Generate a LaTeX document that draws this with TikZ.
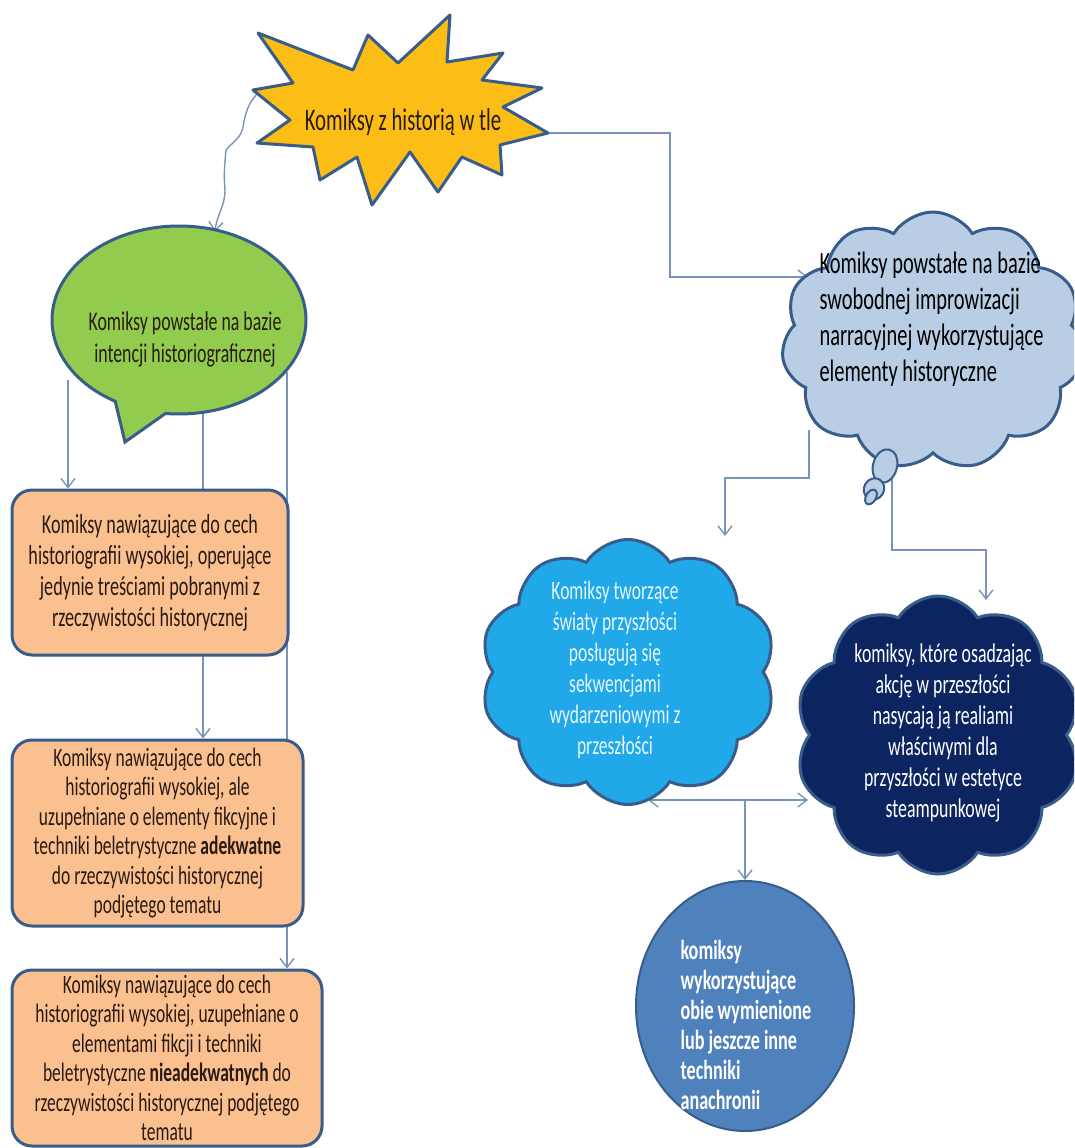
\documentclass[tikz,border=0pt]{standalone}
\usepackage{fontspec}
\setmainfont{Carlito}[FakeStretch=0.66]
\usetikzlibrary{shapes.geometric, shapes.symbols, shapes.callouts, arrows.meta, backgrounds}

\definecolor{outline}{RGB}{56,93,138}
\definecolor{linkblue}{RGB}{120,148,185}
\definecolor{stargold}{RGB}{252,190,22}
\definecolor{bubgreen}{RGB}{146,204,78}
\definecolor{boxorange}{RGB}{250,192,144}
\definecolor{cloudpale}{RGB}{185,205,229}
\definecolor{cloudsky}{RGB}{32,168,232}
\definecolor{cloudnavy}{RGB}{12,36,96}
\definecolor{circblue}{RGB}{79,129,189}
\definecolor{inkdark}{RGB}{42,26,20}

\newcommand{\txtsize}[2]{\fontsize{#1}{#2}\selectfont}

\begin{document}
\begin{tikzpicture}[
    x=1pt, y=-1pt,
    >={Straight Barb[length=9pt, width=14pt]},
    edge/.style={draw=outline, line width=3pt},
    box/.style={edge, rectangle, rounded corners=20pt, fill=boxorange, align=center, text=inkdark, inner sep=2pt},
    puff/.style={edge, cloud, cloud puffs=11, cloud puff arc=115, cloud ignores aspect, inner sep=0pt},
    bubble/.style={edge, line width=2pt, fill=cloudpale},
    link/.style={draw=linkblue, line width=1.4pt, ->},
    linkboth/.style={link, <->}
]

\useasboundingbox (0,0) rectangle (1074,1148);
\begin{scope}[on background layer]
\fill[white] (0,0) rectangle (1074,1148);
\end{scope}
\clip (0,0) rectangle (1074,1148);

% Title explosion
\draw[edge, fill=stargold, line join=round]
    (258,33) -- (353,70) -- (368,35) -- (398,63) -- (450,15) -- (447,62)
    -- (503,53) -- (482,80) -- (542,88) -- (503,107) -- (548,133) -- (500,145)
    -- (502,175) -- (462,157) -- (438,192) -- (410,152) -- (372,205) -- (357,157)
    -- (320,180) -- (313,147) -- (257,143) -- (290,120) -- (253,90) -- (293,83) -- cycle;
\node[text=inkdark, font=\txtsize{31.5}{36}] (star) at (403,122) {Komiksy z historią w tle};
\coordinate (starL) at (256,95);
\coordinate (starR) at (548,133);

% Left branch: speech bubble and boxes
\node[edge, fill=bubgreen, ellipse callout, minimum width=254pt, minimum height=188pt,
      callout absolute pointer={(125,442)}, callout pointer arc=24] (bubble) at (179,320) {};
\node[text=inkdark, align=center, font=\txtsize{27}{32}] (bubtext) at (185,339)
    {Komiksy powstałe na bazie\\intencji historiograficznej};
\coordinate (bubtop) at (215,232);

\node[box, minimum width=276pt, minimum height=165pt, font=\txtsize{27.5}{31}] (box1) at (150,572.5)
    {Komiksy nawiązujące do cech\\historiografii wysokiej, operujące\\jedynie treściami pobranymi z\\rzeczywistości historycznej};
\node[box, minimum width=291pt, minimum height=186pt, font=\txtsize{26.5}{29.5}] (box2) at (157.5,833)
    {Komiksy nawiązujące do cech\\historiografii wysokiej, ale\\uzupełniane o elementy fikcyjne i\\techniki beletrystyczne \textbf{adekwatne}\\do rzeczywistości historycznej\\podjętego tematu};
\node[box, minimum width=310pt, minimum height=176pt, font=\txtsize{26.5}{29.5}] (box3) at (167,1058)
    {Komiksy nawiązujące do cech\\historiografii wysokiej, uzupełniane o\\elementami fikcji i techniki\\beletrystyczne \textbf{nieadekwatnych} do\\rzeczywistości historycznej podjętego\\tematu};

% Right branch: clouds
\node[puff, fill=cloudpale, minimum width=303pt, minimum height=258pt] (cloud1) at (933,341) {};
\node[text=black, align=left, anchor=west, font=\txtsize{31}{36}] (c1text) at (816,319)
    {Komiksy powstałe na bazie\\swobodnej improwizacji\\narracyjnej wykorzystujące\\elementy historyczne};
\draw[bubble] (885,466) ellipse [x radius=12pt, y radius=17pt, rotate=-15];
\draw[bubble] (874,489) ellipse [x radius=10pt, y radius=11pt, rotate=-30];
\draw[bubble] (871,497) ellipse [x radius=5pt, y radius=8pt, rotate=-30];

\node[puff, fill=cloudsky, cloud puffs=10, minimum width=296pt, minimum height=265pt] (cloud2) at (628,672) {};
\node[text={rgb,255:red,232;green,246;blue,255}, align=center, font=\txtsize{26.5}{31}] (c2text) at (615,670)
    {Komiksy tworzące\\światy przyszłości\\posługują się\\sekwencjami\\wydarzeniowymi z\\przeszłości};

\node[puff, fill=cloudnavy, cloud puffs=10, minimum width=286pt, minimum height=278pt] (cloud3) at (938,735) {};
\node[text=white, align=center, font=\txtsize{27}{31}] (c3text) at (943,733)
    {komiksy, które osadzając\\akcję w przeszłości\\nasycają ją realiami\\właściwymi dla\\przyszłości w estetyce\\steampunkowej};

\node[edge, line width=2pt, ellipse, fill=circblue, minimum width=218pt, minimum height=250pt, inner sep=0pt] (circ) at (745,1006) {};
\node[text=white, align=left, anchor=west, font=\bfseries\txtsize{27.5}{30}] (c4text) at (677,1025)
    {komiksy\\wykorzystujące\\obie wymienione\\lub jeszcze inne\\techniki\\anachronii};

% Connectors
\coordinate (a1) at (68,380);
\coordinate (a2) at (203,405);
\coordinate (a3) at (287,372);
\coordinate (c1in) at (808,277);
\coordinate (c1s1) at (809,430);
\coordinate (c1s2) at (892,440);
\coordinate (c2in) at (725,536);
\coordinate (c3in) at (986,600);
\coordinate (m2) at (648,800);
\coordinate (m3) at (808,800);
\coordinate (mj) at (745,800);

\begin{scope}[on background layer]
\draw[link] (starL) to[out=-130, in=80] (243,127) to[out=-100, in=50] (226,150)
    to[out=-95, in=95] (225,190) to[out=-90, in=85] (bubtop);
\draw[link] (a1) -- (a1 |- box1.north);
\draw[link] (a2) -- (a2 |- box2.north);
\draw[link] (a3) -- (a3 |- box3.north);
\draw[link] (starR) -- ++(122,0) |- (c1in);
\draw[link] (c1s1) -- ++(0,48) -| (c2in);
\draw[link] (c1s2) -- ++(0,110) -| (c3in);
\draw[linkboth] (m2) -- (m3);
\draw[link] (mj) -- (circ.north);
\end{scope}

\end{tikzpicture}
\end{document}
